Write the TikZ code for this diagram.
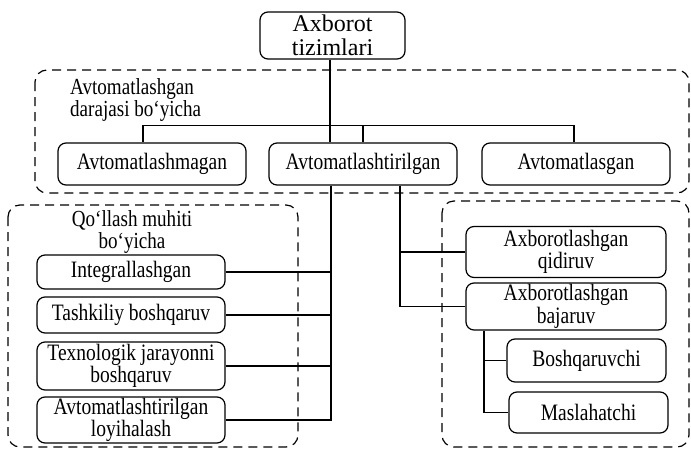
\documentclass[tikz,border=0pt]{standalone}
\usepackage{fontspec}
\setmainfont{Liberation Serif}
\newfontfamily\boxfont{Liberation Serif}[FakeStretch=0.83]
\usepackage{tikz}
\usetikzlibrary{calc}

\begin{document}
\begin{tikzpicture}[x=1pt, y=-1pt,
    every node/.style={font=\boxfont\fontsize{23.5}{20.5}\selectfont},
    box/.style={draw, rounded corners=8pt, line width=1.2pt, align=center, inner sep=0pt},
    group/.style={draw, line width=1.2pt, dash pattern=on 9pt off 6pt, rounded corners=12pt},
    grouplabel/.style={inner sep=0pt, font=\boxfont\fontsize{23}{22}\selectfont},
    link/.style={line width=1.1pt}]
\useasboundingbox (0,0) rectangle (691,450);

% Groups
\draw[group] (35,70) rectangle (689,193);
\draw[group] (8,205) rectangle (298,447);
\draw[group] (442,201) rectangle (689,447);

% Root
\node[box, minimum width=145pt, minimum height=47pt, font=\rmfamily\fontsize{24}{24}\selectfont] (root) at (332.5,35.5) {Axborot\\tizimlari};

% Level 1
\node[grouplabel, anchor=north west, align=left] (lvllabel) at (70,78) {Avtomatlashgan\\darajasi bo‘yicha};
\node[box, minimum width=188pt, minimum height=42pt] (auto1) at (152,164) {Avtomatlashmagan};
\node[box, minimum width=188pt, minimum height=42pt] (auto2) at (363,164) {Avtomatlashtirilgan};
\node[box, minimum width=188pt, minimum height=42pt] (auto3) at (576,164) {Avtomatlasgan};

% Level 2, left
\node[grouplabel, anchor=north, align=center] (uselabel) at (132,210) {Qo‘llash muhiti\\bo‘yicha};
\node[box, minimum width=188pt, minimum height=34pt] (integ) at (131,272) {Integrallashgan};
\node[box, minimum width=188pt, minimum height=36pt] (tashk) at (131,315) {Tashkiliy boshqaruv};
\node[box, minimum width=188pt, minimum height=48pt] (texno) at (131,366) {Texnologik jarayonni\\boshqaruv};
\node[box, minimum width=188pt, minimum height=46pt] (loyih) at (131,420) {Avtomatlashtirilgan\\loyihalash};

% Level 2, right
\node[box, minimum width=200pt, minimum height=51pt] (qidir) at (566,252) {Axborotlashgan\\qidiruv};
\node[box, minimum width=200pt, minimum height=47pt] (bajar) at (566,306.5) {Axborotlashgan\\bajaruv};
\node[box, minimum width=159pt, minimum height=43pt] (boshq) at (586.5,360.5) {Boshqaruvchi};
\node[box, minimum width=159pt, minimum height=41pt] (masla) at (588.5,412.5) {Maslahatchi};

% Connectors
\draw[link] ([xshift=-2.5pt]root.south) -- ([xshift=-33pt]auto2.north);
\draw[link] ([xshift=-9pt]auto1.north) -- ++(0,-17) -| ([xshift=-2pt]auto3.north);
\draw[link] (auto2.north) -- ++(0,-17);

\coordinate (lrail) at ([xshift=-32pt]auto2.south);
\draw[link] (lrail) |- (loyih.east);
\foreach \n in {integ, tashk, texno}
    \draw[link] (\n.east) -- (\n.east -| lrail);

\coordinate (rrail) at ([xshift=37pt]auto2.south);
\draw[link] (rrail) |- (bajar.west);
\draw[link] (qidir.west) -- (qidir.west -| rrail);

\coordinate (srail) at ([xshift=-82pt]bajar.south);
\draw[link] (srail) |- (masla.west);
\draw[link] (boshq.west) -- (boshq.west -| srail);
\end{tikzpicture}
\end{document}
